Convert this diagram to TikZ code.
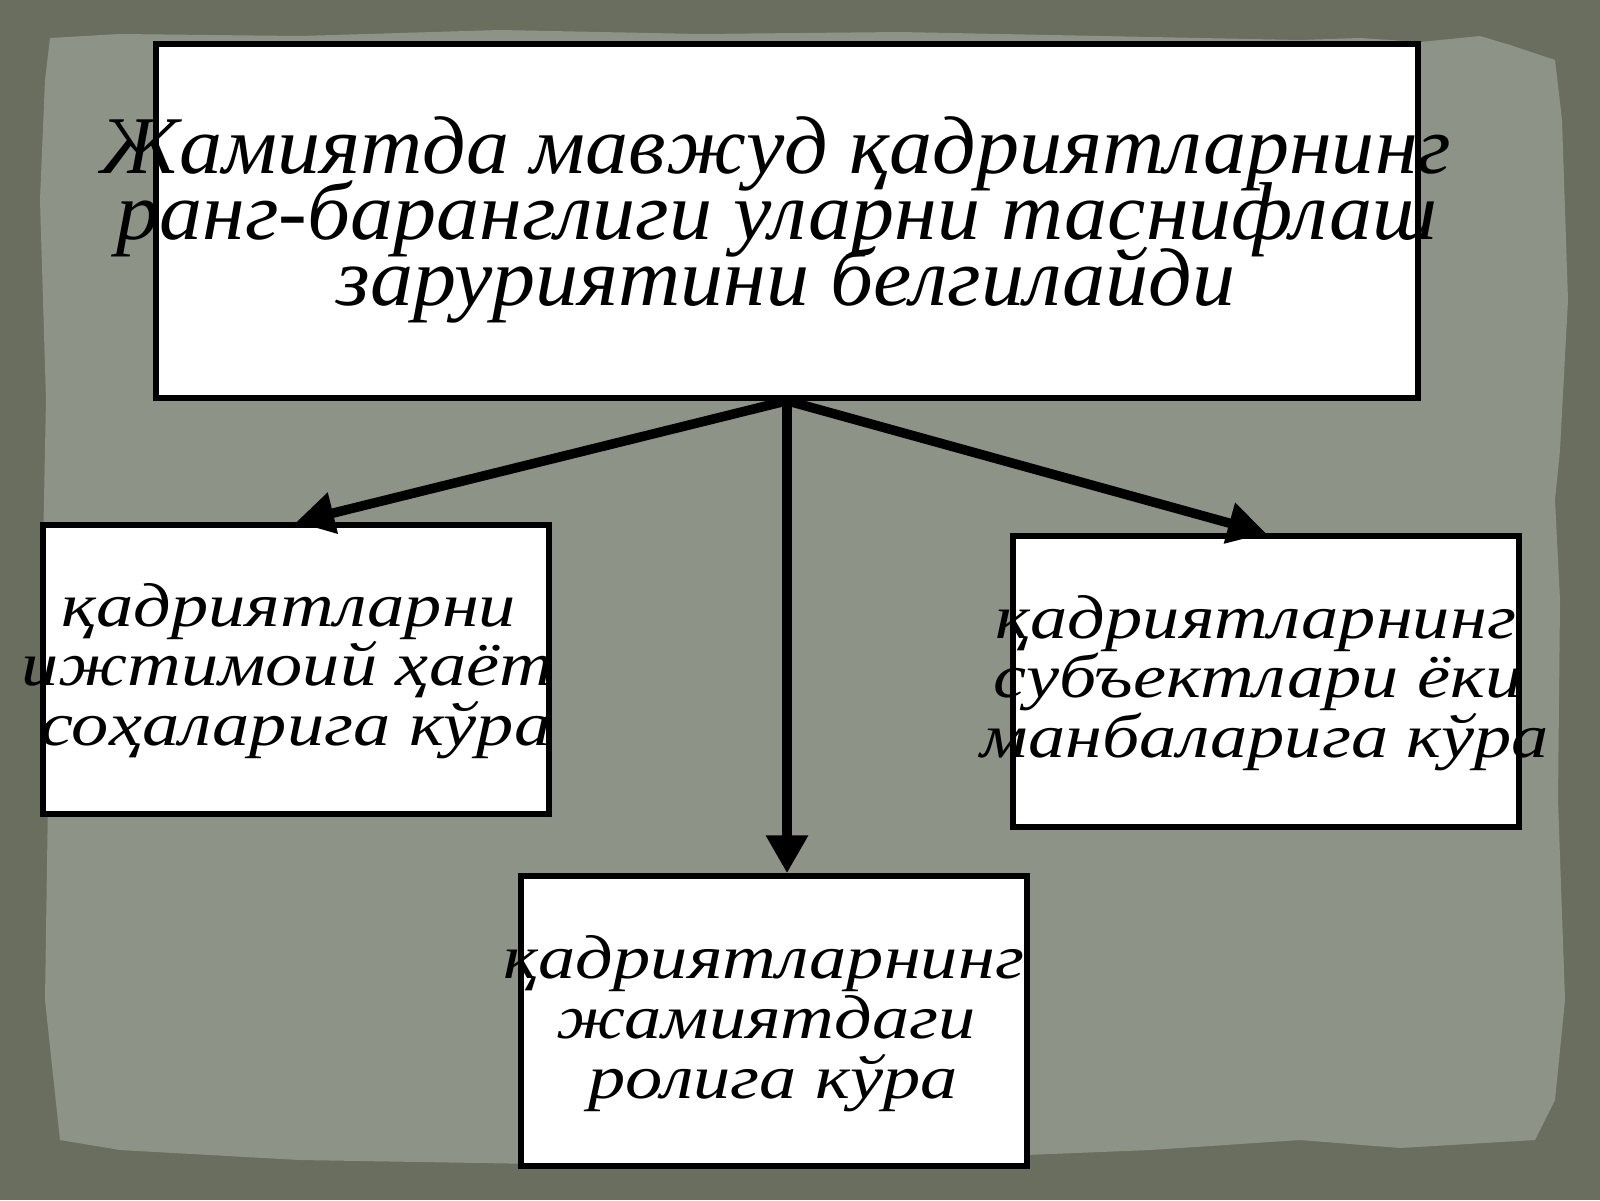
\documentclass[tikz,border=0pt]{standalone}
\usepackage{fontspec}
\setmainfont{Liberation Serif}
\newfontfamily\topfont[FakeStretch=1.05]{Liberation Serif}
\newfontfamily\subfont[FakeStretch=1.2]{Liberation Serif}
\usetikzlibrary{arrows.meta}
\definecolor{frame}{HTML}{6A6E5E}
\definecolor{paper}{HTML}{8E9388}
\tikzset{
  box/.style={draw=black, line width=5.5pt, fill=white, inner sep=0pt},
  toptxt/.style={anchor=base, inner sep=0pt, font=\topfont\itshape\fontsize{82}{82}\selectfont},
  subtxt/.style={anchor=base, inner sep=0pt, font=\subfont\itshape\fontsize{62}{62}\selectfont},
  conn/.style={line width=9.5pt, -{Triangle[length=38pt,width=40pt]}}
}
\begin{document}
\begin{tikzpicture}[x=1pt,y=-1pt]
\useasboundingbox (0,0) rectangle (1600,1200);
% background
\fill[frame] (0,0) rectangle (1600,1200);
\fill[paper] (50,38) -- (120,34) -- (300,36) -- (500,30) -- (700,34) -- (900,32) -- (1100,36) -- (1300,40) -- (1360,38) -- (1420,42) -- (1480,36) -- (1510,45) -- (1555,60) -- (1562,120) -- (1568,300) -- (1560,450) -- (1555,500) -- (1560,600) -- (1558,800) -- (1565,1000) -- (1555,1100) -- (1535,1140) -- (1400,1148) -- (1300,1140) -- (1150,1150) -- (900,1160) -- (600,1165) -- (300,1160) -- (120,1150) -- (60,1140) -- (45,1000) -- (48,800) -- (42,600) -- (46,400) -- (40,200) -- (45,80) -- cycle;
% boxes
\node[box, minimum width=1262pt, minimum height=354pt] (top) at (787,221) {};
\node[box, minimum width=506pt, minimum height=289pt] (left) at (296,669.5) {};
\node[box, minimum width=506pt, minimum height=291pt] (right) at (1266,681.5) {};
\node[box, minimum width=506pt, minimum height=290pt] (bot) at (774,1021) {};
% connectors
\draw[conn] (top.south) -- (left.north);
\draw[conn] (top.south) -- (top.south |- bot.north);
\draw[conn] (top.south) -- (right.north);
% texts
\node[toptxt] (t1) at (776,173) {Жамиятда мавжуд қадриятларнинг};
\node[toptxt] (t2) at (777,239) {ранг-баранглиги уларни таснифлаш};
\node[toptxt] (t3) at (786,305) {заруриятини белгилайди};
\node[subtxt] (l1) at (289,626) {қадриятларни};
\node[subtxt] (l2) at (287,685) {ижтимоий ҳаёт};
\node[subtxt] (l3) at (296,745) {соҳаларига кўра};
\node[subtxt] (r1) at (1256,638) {қадриятларнинг};
\node[subtxt] (r2) at (1258,697) {субъектлари ёки};
\node[subtxt] (r3) at (1265,757) {манбаларига кўра};
\node[subtxt] (b1) at (764,978) {қадриятларнинг};
\node[subtxt] (b2) at (766,1038) {жамиятдаги};
\node[subtxt] (b3) at (773,1098) {ролига кўра};
\end{tikzpicture}
\end{document}
